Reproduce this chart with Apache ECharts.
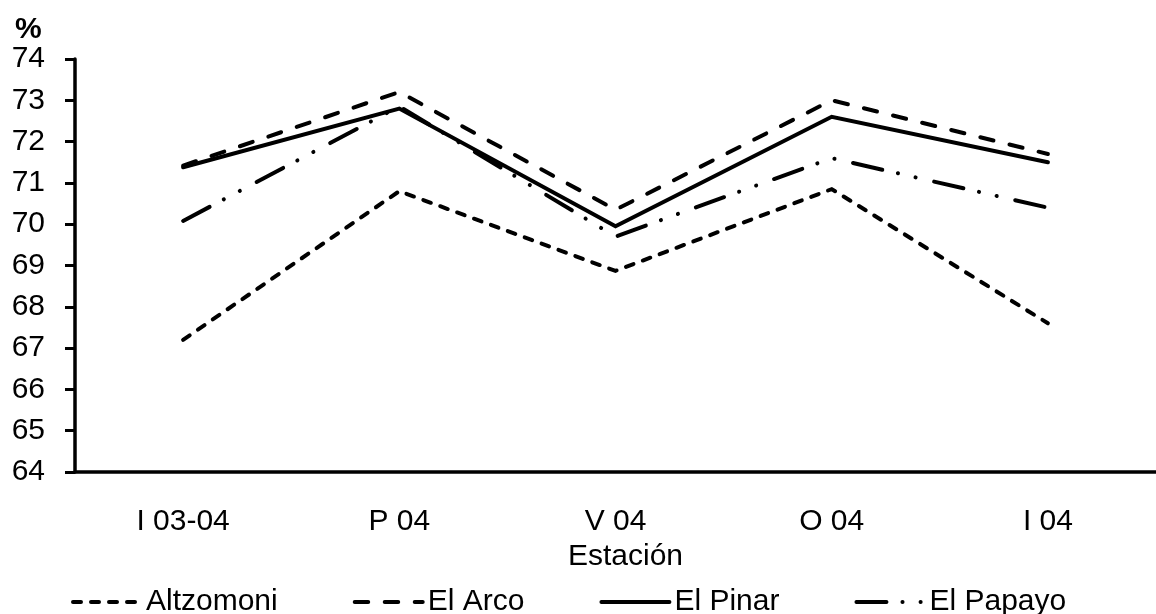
<!DOCTYPE html>
<html>
<head>
<meta charset="utf-8">
<script src="https://cdn.jsdelivr.net/npm/echarts@6/dist/echarts.min.js"></script>
<style>
  html, body { margin: 0; padding: 0; background: #fff; }
  #main { width: 1156px; height: 614px; }
</style>
</head>
<body>
<div id="main"></div>
<script>
// estaciones
var seasons = ['I 03-04', 'P 04', 'V 04', 'O 04', 'I 04'];
var yTicks = [64, 65, 66, 67, 68, 69, 70, 71, 72, 73, 74];

var altzomoni = [67.2, 70.8, 68.87, 70.85, 67.6];
var elArco = [71.42, 73.2, 70.35, 73.0, 71.7];
var elPinar = [71.38, 72.8, 69.95, 72.6, 71.5];
var elPapayo = [70.08, 72.85, 69.7, 71.6, 70.4];

var font = 'Liberation Sans, Arial, sans-serif';

function serie(name, data, dash) {
  return {
    name: name,
    type: 'line',
    data: data,
    symbol: 'none',
    showSymbol: false,
    color: '#000',
    animation: false,
    lineStyle: {
      color: '#000',
      width: 4,
      type: dash,
      cap: 'round',
      join: 'miter'
    }
  };
}

var chart = echarts.init(document.getElementById('main'));
var option = {
  backgroundColor: '#fff',
  animation: false,
  title: {
    text: '%',
    left: 10,
    top: 10,
    textStyle: { fontFamily: font, fontSize: 30, fontWeight: 'bold', color: '#000' }
  },
  grid: {
    left: 75,
    right: 0,
    top: 59,
    bottom: 142
  },
  legend: {
    left: 66,
    top: 582,
    itemWidth: 68,
    itemHeight: 14,
    itemGap: 75,
    itemStyle: { opacity: 0 },
    lineStyle: { width: 4, color: '#000' },
    textStyle: { fontFamily: font, fontSize: 30, color: '#000' },
    data: ['Altzomoni', 'El Arco', 'El Pinar', 'El Papayo']
  },
  xAxis: {
    type: 'category',
    data: seasons,
    boundaryGap: true,
    name: 'Estación',
    nameLocation: 'middle',
    nameGap: 68,
    nameTextStyle: { fontFamily: font, fontSize: 30, color: '#000', padding: [0, 0, 0, 20] },
    axisLine: { lineStyle: { color: '#000', width: 3.5 } },
    axisTick: { alignWithLabel: true, length: 7, lineStyle: { color: '#000', width: 3 } },
    axisLabel: { fontFamily: font, fontSize: 30, color: '#000', margin: 35 },
    splitLine: { show: false }
  },
  yAxis: {
    type: 'value',
    min: yTicks[0],
    max: yTicks[yTicks.length - 1],
    interval: 1,
    axisLine: { show: true, lineStyle: { color: '#000', width: 3.5 } },
    axisTick: { show: true, length: 10, lineStyle: { color: '#000', width: 3 } },
    axisLabel: { fontFamily: font, fontSize: 30, color: '#000', margin: 30 },
    splitLine: { show: false }
  },
  series: [
    serie('Altzomoni', altzomoni, [8, 10]),
    serie('El Arco', elArco, [13.5, 16.5]),
    serie('El Pinar', elPinar, 'solid'),
    serie('El Papayo', elPapayo, [30, 16, 0.1, 18, 0.1, 19])
  ]
};
chart.setOption(option);
</script>
</body>
</html>
